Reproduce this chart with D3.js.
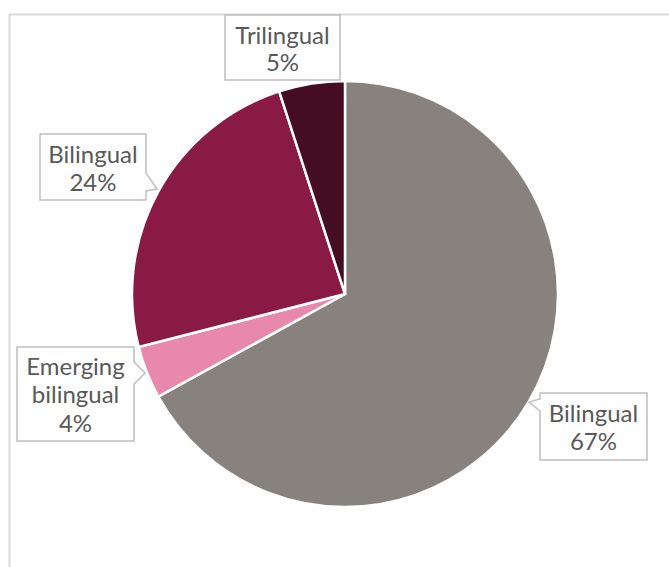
<!DOCTYPE html>
<html>
<head>
<meta charset="utf-8">
<script src="https://cdn.jsdelivr.net/npm/d3@7/dist/d3.min.js"></script>
<style>
  html, body { margin: 0; padding: 0; background: #fff; }
  svg { display: block; }
</style>
</head>
<body>
<svg id="chart" width="669" height="567"></svg>
<script>
// Language profile shares, clockwise from 12 o'clock
const categories = ["Bilingual", "Emerging bilingual", "Bilingual", "Trilingual"];
const values = [67, 4, 24, 5];
const labelLines = [["Bilingual", "67%"], ["Emerging", "bilingual", "4%"], ["Bilingual", "24%"], ["Trilingual", "5%"]];
const palette = ["#88827f", "#e889ab", "#881a44", "#450d22"];

const svg = d3.select("#chart");

// chart frame (clipped at right and bottom)
svg.append("rect")
  .attr("x", 9.5).attr("y", 14.5)
  .attr("width", 700).attr("height", 600)
  .attr("fill", "none").attr("stroke", "#d9d9d9").attr("stroke-width", 2);

const cx = 345, cy = 294, R = 213;
const pie = d3.pie().sort(null).value(d => d);
const arc = d3.arc().innerRadius(0).outerRadius(R);
const arcs = pie(values);

const g = svg.append("g").attr("transform", `translate(${cx},${cy})`);
g.selectAll("path.slice")
  .data(arcs)
  .join("path")
  .attr("class", "slice")
  .attr("d", arc)
  .attr("fill", (d, i) => palette[i])
  .attr("stroke", "#fff")
  .attr("stroke-width", 2.5)
  .attr("stroke-linejoin", "miter");

// callout boxes: [x0, y0, x1, y1], pointer on side with tip
const callouts = [
  { box: [540, 393, 647, 460], side: "left", a: 399, b: 411, tip: [529, 402], center: 593.5, baselines: [422, 450] },
  { box: [17, 347, 134, 441], side: "right", a: 362, b: 384, tip: [145, 373], center: 75.5, baselines: [375, 403, 431.5] },
  { box: [40, 134, 146, 200], side: "right", a: 173, b: 191, tip: [157, 189], center: 93, baselines: [163, 191] },
  { box: [225, 15, 340, 80], side: "none", center: 282.5, baselines: [44, 71] }
];

function calloutPath(c) {
  const [x0, y0, x1, y1] = c.box;
  const p = d3.path();
  p.moveTo(x0, y0);
  p.lineTo(x1, y0);
  if (c.side === "right") {
    p.lineTo(x1, c.a); p.lineTo(c.tip[0], c.tip[1]); p.lineTo(x1, c.b);
  }
  p.lineTo(x1, y1);
  p.lineTo(x0, y1);
  if (c.side === "left") {
    p.lineTo(x0, c.b); p.lineTo(c.tip[0], c.tip[1]); p.lineTo(x0, c.a);
  }
  p.closePath();
  return p.toString();
}

const labels = svg.append("g");
callouts.forEach((c, i) => {
  labels.append("path")
    .attr("d", calloutPath(c))
    .attr("fill", "#fff")
    .attr("stroke", "#bfbfbf")
    .attr("stroke-width", 1.5);
  labelLines[i].forEach((t, j) => {
    labels.append("text")
      .attr("x", c.center)
      .attr("y", c.baselines[j])
      .attr("text-anchor", "middle")
      .attr("font-family", "Lato, 'Open Sans', sans-serif")
      .attr("font-size", 24)
      .attr("fill", "#595959")
      .text(t);
  });
});
</script>
</body>
</html>
